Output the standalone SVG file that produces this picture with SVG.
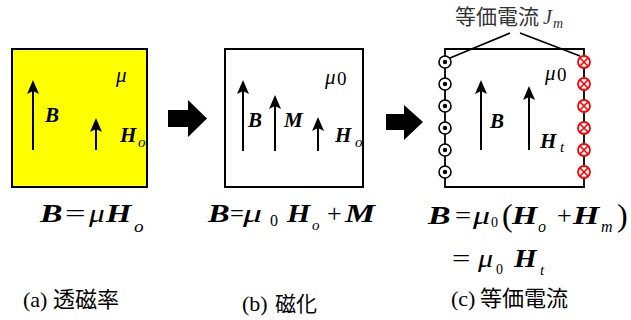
<svg xmlns="http://www.w3.org/2000/svg" width="631" height="320" viewBox="0 0 631 320">
<style>
.r{font-family:'Liberation Serif','Times New Roman',serif;fill:#000}
.i{font-family:'Liberation Serif','Times New Roman',serif;font-style:italic;fill:#000}
.b{font-family:'Liberation Serif','Times New Roman',serif;font-weight:bold;font-style:italic;fill:#000}
.j{font-family:'Noto Sans CJK JP','Noto Sans CJK SC',sans-serif;fill:#000}
.ar{stroke:#000;stroke-width:2;fill:none}
.ln{stroke:#000;stroke-width:1.8;fill:none}
.cw{fill:#fff;stroke:#000;stroke-width:1.6}
.dot{fill:#000}
.cr{fill:#fff;stroke:#f00;stroke-width:1.8}
.x{stroke:#f00;stroke-width:1.6;fill:none}
</style>
<defs>
<marker id="ah" viewBox="0 0 14 12" refX="10" refY="6" markerWidth="14" markerHeight="12" orient="auto" markerUnits="userSpaceOnUse">
<path d="M0,0 L14,6 L0,12 L3,6 Z" fill="#000"/>
</marker>
</defs>

<g id="panel-a">
<rect x="12" y="49" width="135" height="138" fill="#ffff00" stroke="#000" stroke-width="2"/>
<line class="ar" x1="33" y1="150" x2="33" y2="84" marker-end="url(#ah)"/>
<line class="ar" x1="96" y1="150" x2="96" y2="122" marker-end="url(#ah)"/>
<text class="i" x="116" y="82" font-size="21">μ</text>
<text class="b" x="45" y="122" font-size="21">B</text>
<text class="b" x="120" y="142" font-size="21">H</text>
<text class="i" x="138" y="147" font-size="15">o</text>
</g>

<g id="arrow-1">
<path d="M168,110 H188 V100 L207,118.5 L188,137 V127 H168 Z" fill="#000"/>
</g>

<g id="panel-b">
<rect x="225" y="49" width="138" height="138" fill="none" stroke="#000" stroke-width="2"/>
<line class="ar" x1="243" y1="151" x2="243" y2="84" marker-end="url(#ah)"/>
<line class="ar" x1="275" y1="151" x2="275" y2="99" marker-end="url(#ah)"/>
<line class="ar" x1="318" y1="151" x2="318" y2="121" marker-end="url(#ah)"/>
<text class="i" x="325" y="84" font-size="21">μ</text>
<text class="r" x="337" y="85" font-size="19">0</text>
<text class="b" x="248" y="127" font-size="21">B</text>
<text class="b" x="284" y="127" font-size="21">M</text>
<text class="b" x="335" y="142" font-size="21">H</text>
<text class="i" x="355" y="147" font-size="15">o</text>
</g>

<g id="arrow-2">
<path d="M386,114 H404 V105 L423,122 L404,140 V130 H386 Z" fill="#000"/>
</g>

<g id="panel-c">
<path class="ln" d="M445,49 H584 V187 H445 Z"/>
<line class="ar" x1="481" y1="150" x2="481" y2="84" marker-end="url(#ah)"/>
<line class="ar" x1="529" y1="150" x2="529" y2="90" marker-end="url(#ah)"/>
<text class="i" x="545" y="80" font-size="21">μ</text>
<text class="r" x="557" y="81" font-size="19">0</text>
<text class="b" x="490" y="128" font-size="21">B</text>
<text class="b" x="540" y="148" font-size="21">H</text>
<text class="i" x="560" y="152" font-size="15">t</text>
</g>

<g id="currents-out">
<circle class="cw" cx="445" cy="62" r="6"/><circle class="dot" cx="445" cy="62" r="2.2"/>
<circle class="cw" cx="445" cy="84" r="6"/><circle class="dot" cx="445" cy="84" r="2.2"/>
<circle class="cw" cx="445" cy="106" r="6"/><circle class="dot" cx="445" cy="106" r="2.2"/>
<circle class="cw" cx="445" cy="128" r="6"/><circle class="dot" cx="445" cy="128" r="2.2"/>
<circle class="cw" cx="445" cy="150" r="6"/><circle class="dot" cx="445" cy="150" r="2.2"/>
<circle class="cw" cx="445" cy="172" r="6"/><circle class="dot" cx="445" cy="172" r="2.2"/>
</g>

<g id="currents-in">
<circle class="cr" cx="584" cy="62" r="6"/><path class="x" d="M579.8,57.8 L588.2,66.2 M588.2,57.8 L579.8,66.2"/>
<circle class="cr" cx="584" cy="84" r="6"/><path class="x" d="M579.8,79.8 L588.2,88.2 M588.2,79.8 L579.8,88.2"/>
<circle class="cr" cx="584" cy="106" r="6"/><path class="x" d="M579.8,101.8 L588.2,110.2 M588.2,101.8 L579.8,110.2"/>
<circle class="cr" cx="584" cy="128" r="6"/><path class="x" d="M579.8,123.8 L588.2,132.2 M588.2,123.8 L579.8,132.2"/>
<circle class="cr" cx="584" cy="150" r="6"/><path class="x" d="M579.8,145.8 L588.2,154.2 M588.2,145.8 L579.8,154.2"/>
<circle class="cr" cx="584" cy="172" r="6"/><path class="x" d="M579.8,167.8 L588.2,176.2 M588.2,167.8 L579.8,176.2"/>
</g>

<g id="label-current">
<text class="j" x="455" y="24" font-size="21" style="fill:#333">等価電流</text>
<text class="i" x="543" y="24" font-size="20" style="fill:#333">J</text>
<text class="i" x="553" y="28" font-size="14" style="fill:#333">m</text>
</g>

<g id="connectors">
<line class="ln" x1="510" y1="33" x2="450" y2="58"/>
<line class="ln" x1="520" y1="33" x2="580" y2="56"/>
</g>

<g id="eq-a" font-size="26">
<text class="b" transform="translate(40,222) scale(1.3,1)">B</text>
<text class="r" transform="translate(65,222) scale(1.4,1)">=</text>
<text class="i" transform="translate(89,222) scale(1.2,1)">μ</text>
<text class="b" transform="translate(106,222) scale(1.25,1)">H</text>
<text class="i" transform="translate(134,232) scale(1.2,1)" font-size="16">o</text>
</g>

<g id="eq-b" font-size="26">
<text class="b" transform="translate(208,222) scale(1.25,1)">B</text>
<text class="r" transform="translate(230,222) scale(0.95,1)">=</text>
<text class="i" transform="translate(243,222) scale(1.45,1)">μ</text>
<text class="r" x="270" y="226" font-size="16">0</text>
<text class="b" transform="translate(287,222) scale(1.15,1)">H</text>
<text class="i" x="312" y="230" font-size="15">o</text>
<text class="r" x="327" y="222">+</text>
<text class="b" transform="translate(345,222) scale(1.3,1)">M</text>
</g>

<g id="eq-c" font-size="26">
<text class="b" transform="translate(428,224) scale(1.3,1)">B</text>
<text class="r" transform="translate(455,224) scale(1.1,1)">=</text>
<text class="i" transform="translate(473,224) scale(1.3,1)">μ</text>
<text class="r" x="491" y="227" font-size="14">0</text>
<text class="r" x="502" y="226" font-size="32">(</text>
<text class="b" transform="translate(512,224) scale(1.25,1)">H</text>
<text class="i" x="538" y="232" font-size="16">o</text>
<text class="r" x="557" y="224">+</text>
<text class="b" transform="translate(573,224) scale(1.3,1)">H</text>
<text class="i" x="601" y="232" font-size="16">m</text>
<text class="r" x="617" y="226" font-size="32">)</text>
<text class="r" transform="translate(452,267) scale(1.25,1)">=</text>
<text class="i" transform="translate(478,267) scale(1.15,1)">μ</text>
<text class="r" x="496" y="274" font-size="14">0</text>
<text class="b" transform="translate(514,267) scale(1.12,1)">H</text>
<text class="i" x="540" y="275" font-size="15">t</text>
</g>

<g id="captions">
<text class="r" x="23" y="307" font-size="22">(a)</text>
<text class="j" x="53" y="307" font-size="22">透磁率</text>
<text class="r" x="242" y="311" font-size="22">(b)</text>
<text class="j" x="275" y="311" font-size="21">磁化</text>
<text class="r" x="451" y="306" font-size="22">(c)</text>
<text class="j" x="480" y="306" font-size="22">等価電流</text>
</g>
</svg>
